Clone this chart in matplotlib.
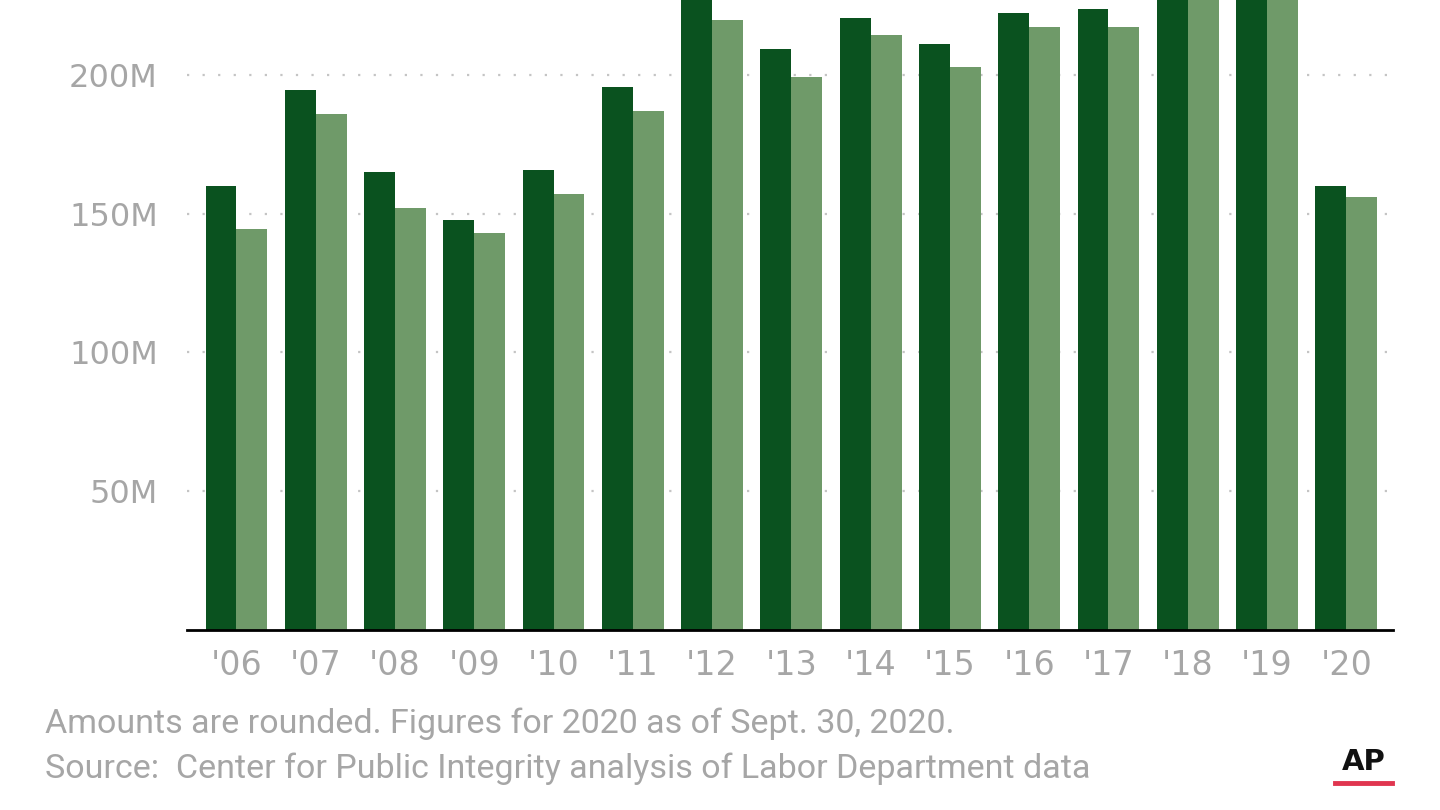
import matplotlib
matplotlib.use("Agg")
import matplotlib.pyplot as plt
import numpy as np

# Valeurs (millions de dollars)
years = ["'06", "'07", "'08", "'09", "'10", "'11", "'12", "'13",
         "'14", "'15", "'16", "'17", "'18", "'19", "'20"]
series_dark = [160.0, 194.5, 165.1, 147.7, 165.7, 195.8, 227.5, 209.4,
               220.4, 211.3, 222.4, 223.6, 240.0, 245.0, 160.1]
series_light = [144.3, 185.9, 152.1, 142.9, 157.0, 187.1, 219.9, 199.3,
                214.2, 203.0, 217.4, 217.4, 232.0, 236.0, 156.1]
y_ticks = [50, 100, 150, 200]
y_tick_labels = ["50M", "100M", "150M", "200M"]

note_text = "Amounts are rounded. Figures for 2020 as of Sept. 30, 2020."
source_text = "Source:  Center for Public Integrity analysis of Labor Department data"

dark_green = "#0a521f"
light_green = "#6f9a69"
grey_text = "#a6a6a6"

fig = plt.figure(figsize=(14.4, 8.1), dpi=100)
ax = fig.add_axes([187 / 1440, 180.5 / 810, 1206 / 1440, 629.5 / 810])

x = np.arange(len(years))
w = 0.39
ax.bar(x - w / 2, series_dark, width=w, color=dark_green, zorder=2)
ax.bar(x + w / 2, series_light, width=w, color=light_green, zorder=2)

ax.set_xlim(-0.624, 14.59)
ax.set_ylim(0, 227)

# Grille pointillée
ax.set_yticks(y_ticks)
ax.set_yticklabels(y_tick_labels)
ax.yaxis.grid(True, linestyle=(0, (1, 6)), color="#c4c4c4", linewidth=1.6, zorder=0)
ax.set_axisbelow(True)

ax.set_xticks(x)
ax.set_xticklabels(years)

for s in ["top", "right", "left"]:
    ax.spines[s].set_visible(False)
ax.spines["bottom"].set_color("black")
ax.spines["bottom"].set_linewidth(2)

ax.tick_params(axis="y", length=0, pad=21, labelsize=23, labelcolor=grey_text)
ax.tick_params(axis="x", length=0, pad=14, labelsize=24, labelcolor=grey_text)
for lab in ax.get_xticklabels() + ax.get_yticklabels():
    lab.set_fontfamily("DejaVu Sans")

# Notes en bas
fig.text(45 / 1440, 1 - 733 / 810, note_text, fontsize=24.5, color=grey_text,
         family="Roboto", va="baseline", ha="left")
fig.text(45 / 1440, 1 - 778 / 810, source_text, fontsize=24.5, color=grey_text,
         family="Roboto", va="baseline", ha="left")

# Logo AP
fig.text(1364 / 1440, 1 - 770 / 810, "AP", fontsize=21, fontweight="heavy",
         color="#111111", family="DejaVu Sans", ha="center", va="baseline")
fig.add_artist(plt.Line2D([1335 / 1440, 1392 / 1440], [1 - 783 / 810, 1 - 783 / 810],
                          color="#e0354f", linewidth=3.5, transform=fig.transFigure))

fig.savefig("out.png", dpi=100)
